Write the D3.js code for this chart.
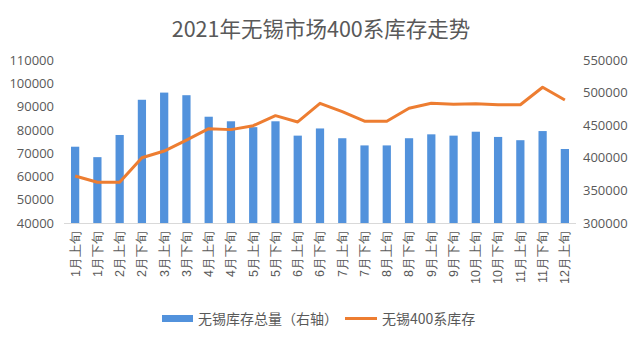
<!DOCTYPE html>
<html><head><meta charset="utf-8">
<script src="https://cdn.jsdelivr.net/npm/d3@7"></script>
<style>body{margin:0;background:#fff}svg{display:block;font-family:"Noto Sans CJK SC","Noto Sans",sans-serif}</style>
</head><body><svg id="c" width="640" height="341"></svg>
<script>
const categories = ["1月上旬","1月下旬","2月上旬","2月下旬","3月上旬","3月下旬","4月上旬","4月下旬","5月上旬","5月下旬","6月上旬","6月下旬","7月上旬","7月下旬","8月上旬","8月下旬","9月上旬","9月下旬","10月上旬","10月下旬","11月上旬","11月下旬","12月上旬"];
const totalStock = [417000,401000,435000,489000,500000,496000,463000,456000,447000,456000,434000,445000,430000,419000,419000,430000,436000,434000,440000,432000,427000,441000,413500];
const stock400 = [60200,57500,57500,68000,70900,75600,80500,80100,81800,86100,83400,91400,87800,83700,83700,89300,91400,91000,91200,90800,90800,98300,92800];
const leftTicks = [40000,50000,60000,70000,80000,90000,100000,110000];
const rightTicks = [300000,350000,400000,450000,500000,550000];
const title = "2021年无锡市场400系库存走势";
const legendBar = "无锡库存总量（右轴）";
const legendLine = "无锡400系库存";

const svg = d3.select("#c");
const L = 64, R = 576, T = 60, B = 223;
const x = d3.scaleBand().domain(categories).range([L, R]).paddingInner(0.63).paddingOuter(0.315);
const yL = d3.scaleLinear().domain([40000,110000]).range([B, T]);
const yR = d3.scaleLinear().domain([300000,550000]).range([B, T]);
const txt = "#595959";

svg.append("text").attr("x", 321).attr("y", 37).attr("text-anchor","middle")
  .attr("font-size", 21.5).attr("fill", txt).text(title);

// bars
svg.append("g").selectAll("rect").data(categories).join("rect")
  .attr("x", d => x(d)).attr("width", x.bandwidth())
  .attr("y", (d,i) => yR(totalStock[i])).attr("height", (d,i) => B - yR(totalStock[i]))
  .attr("fill", "#5292dc");

// baseline
svg.append("line").attr("x1", L).attr("x2", R).attr("y1", B+0.5).attr("y2", B+0.5)
  .attr("stroke", "#d9d9d9").attr("stroke-width", 1);

// line
const line = d3.line().x((d,i) => x(categories[i]) + x.bandwidth()/2).y(d => yL(d));
svg.append("path").datum(stock400).attr("d", line).attr("fill","none")
  .attr("stroke", "#ed7d31").attr("stroke-width", 3).attr("stroke-linejoin","round");

// left axis
const axL = svg.append("g").attr("transform", `translate(${L-10},0)`)
  .call(d3.axisLeft(yL).tickValues(leftTicks).tickSize(0).tickPadding(0).tickFormat(d3.format("d")));
axL.select(".domain").remove();
axL.selectAll("text").attr("font-size", 13).attr("fill", txt).attr("font-family", "'Open Sans','Noto Sans',sans-serif");

// right axis
const axR = svg.append("g").attr("transform", `translate(${R+7},0)`)
  .call(d3.axisRight(yR).tickValues(rightTicks).tickSize(0).tickPadding(0).tickFormat(d3.format("d")));
axR.select(".domain").remove();
axR.selectAll("text").attr("font-size", 13).attr("fill", txt).attr("font-family", "'Open Sans','Noto Sans',sans-serif");

// x axis labels
const axX = svg.append("g").attr("transform", `translate(0,${B})`)
  .call(d3.axisBottom(x).tickSize(0).tickPadding(0));
axX.select(".domain").remove();
axX.selectAll("text").attr("font-size", 12.5).attr("fill", txt)
  .attr("text-anchor", "end").attr("dy", "0.35em")
  .attr("transform", "translate(0,8) rotate(-90)").attr("x", 0).attr("y", 0);

// legend
const lg = svg.append("g");
lg.append("rect").attr("x", 162).attr("y", 315).attr("width", 31).attr("height", 7).attr("fill", "#5292dc");
lg.append("text").attr("x", 198).attr("y", 323.5).attr("font-size", 14).attr("fill", txt).text(legendBar);
lg.append("line").attr("x1", 345).attr("x2", 377).attr("y1", 318.5).attr("y2", 318.5).attr("stroke", "#ed7d31").attr("stroke-width", 3);
lg.append("text").attr("x", 382).attr("y", 323.5).attr("font-size", 14).attr("fill", txt).text(legendLine);
</script></body></html>
